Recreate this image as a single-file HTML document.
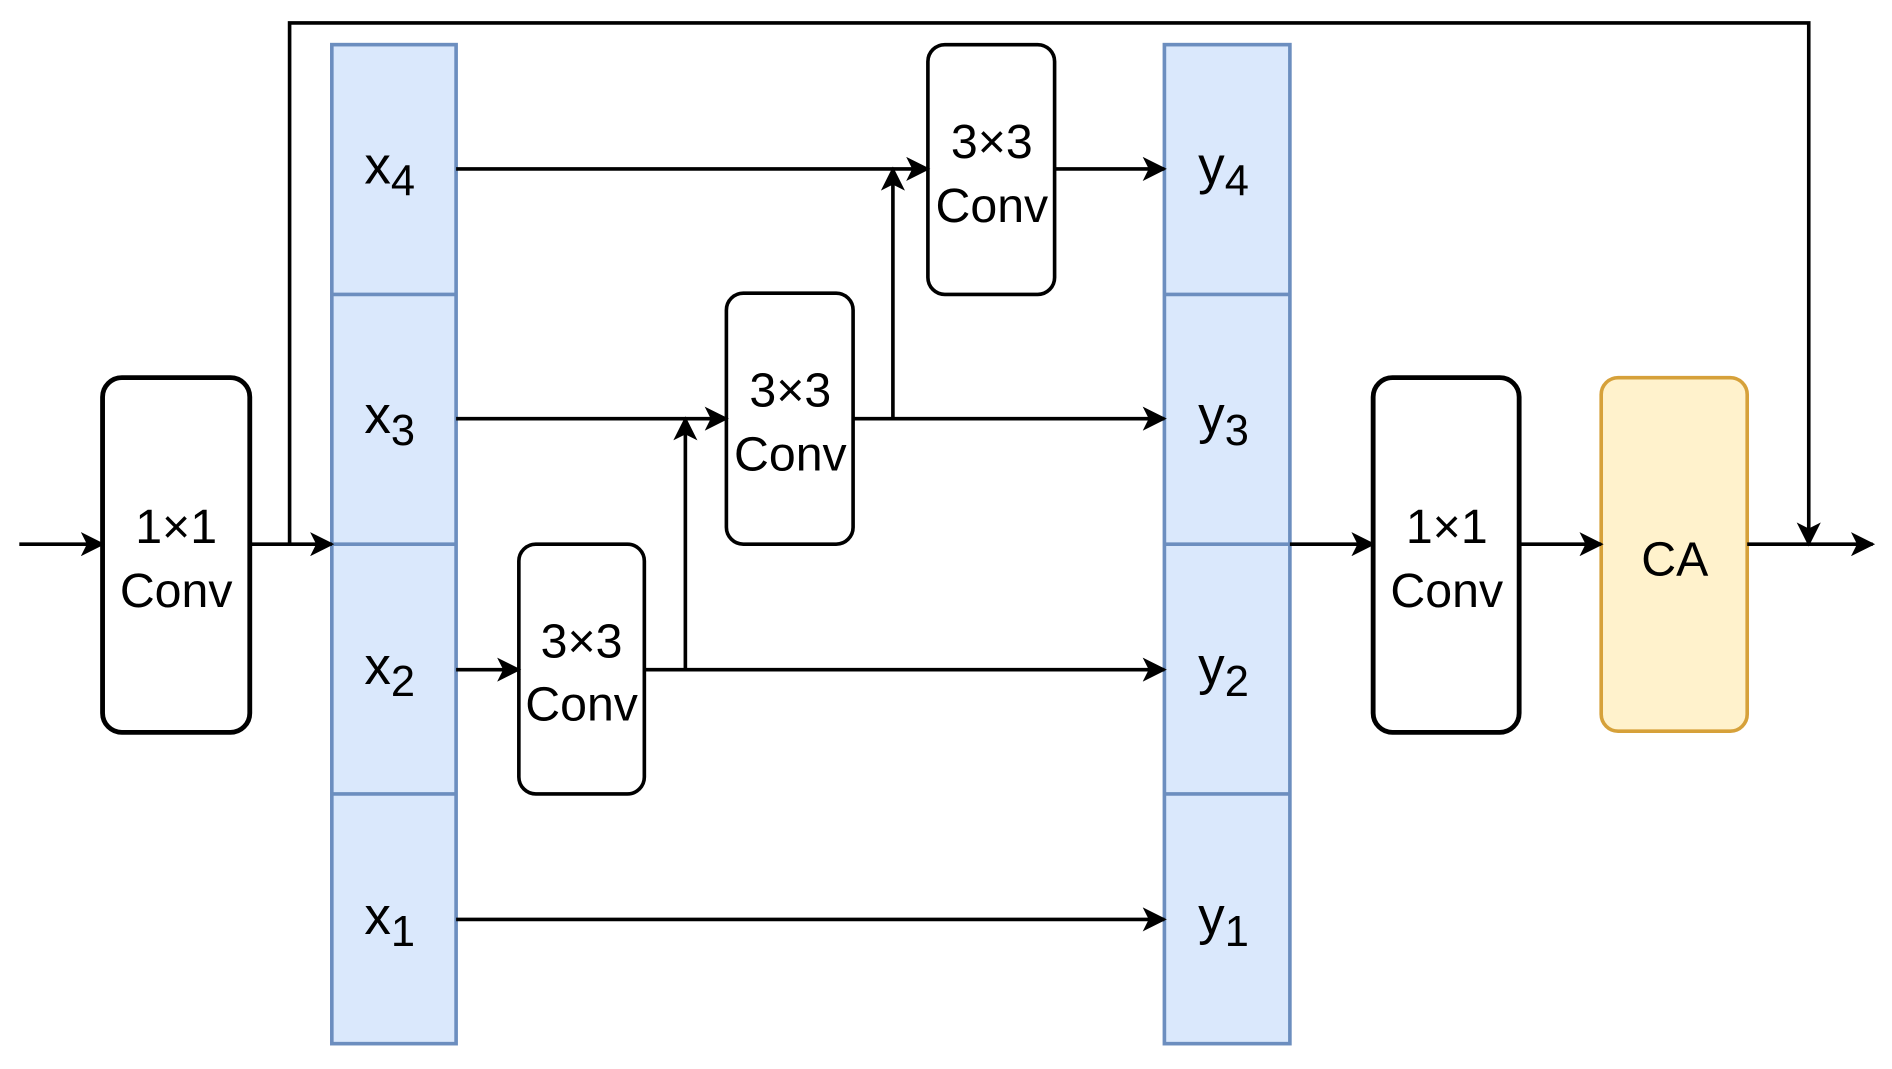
<!DOCTYPE html>
<html><head><meta charset="utf-8"><style>html,body{margin:0;padding:0;background:#fff}svg{display:block}</style></head>
<body>
<svg width="1892" height="1069" viewBox="0 0 1568 886" preserveAspectRatio="none" xmlns="http://www.w3.org/2000/svg" font-family="Liberation Sans, sans-serif">
<defs>
<marker id="b" markerWidth="20" markerHeight="20" refX="18" refY="10" orient="auto" markerUnits="userSpaceOnUse" viewBox="0 0 20 20"><path d="M0,0 L20,10 L0,20 L5,10 Z" fill="#000"/></marker></defs>
<g fill="#dae8fc" stroke="#6c8ebf" stroke-width="3">
<rect x="275" y="37" width="103" height="828"/>
<rect x="965" y="37" width="104" height="828"/>
<path d="M275 244H378M275 451H378M275 658H378M965 244H1069M965 451H1069M965 658H1069"/>
</g>
<g fill="#fff" stroke="#000">
<rect x="85" y="313" width="122" height="294" rx="16" stroke-width="4"/>
<rect x="1138" y="313" width="121" height="294" rx="16" stroke-width="4"/>
<rect x="430" y="451" width="104" height="207" rx="14" stroke-width="3"/>
<rect x="602" y="243" width="105" height="208" rx="14" stroke-width="3"/>
<rect x="769" y="37" width="105" height="207" rx="14" stroke-width="3"/>
</g>
<rect x="1327" y="313" width="121" height="293" rx="14" fill="#fff2cc" stroke="#d6a13a" stroke-width="3"/>
<g stroke="#000" stroke-width="3" fill="none" marker-end="url(#b)">
<path d="M16 451H85"/><path d="M207 451H275"/>
<path d="M240 451V19H1499V451"/>
<path d="M1448 451H1552"/>
<path d="M378 140H769"/><path d="M740 347V140"/>
<path d="M378 347H602"/><path d="M568 555V347"/>
<path d="M378 555H430"/><path d="M534 555H965"/>
<path d="M707 347H965"/><path d="M874 140H965"/>
<path d="M378 762H965"/>
<path d="M1069 451H1138"/><path d="M1259 451H1327"/>
</g>
<g font-size="40" text-anchor="middle" fill="#000">
<text x="146" y="450">1×1</text><text x="146" y="503">Conv</text>
<text x="1199" y="450">1×1</text><text x="1199" y="503">Conv</text>
<text x="482" y="545">3×3</text><text x="482" y="597">Conv</text>
<text x="655" y="337">3×3</text><text x="655" y="390">Conv</text>
<text x="822" y="131">3×3</text><text x="822" y="184">Conv</text>
<text x="1388" y="477">CA</text>
</g>
<g font-size="44" fill="#000">
<text x="302" y="152">x<tspan font-size="36" dy="10">4</tspan></text>
<text x="302" y="359">x<tspan font-size="36" dy="10">3</tspan></text>
<text x="302" y="567">x<tspan font-size="36" dy="10">2</tspan></text>
<text x="302" y="774">x<tspan font-size="36" dy="10">1</tspan></text>
<text x="993" y="152">y<tspan font-size="36" dy="10">4</tspan></text>
<text x="993" y="359">y<tspan font-size="36" dy="10">3</tspan></text>
<text x="993" y="567">y<tspan font-size="36" dy="10">2</tspan></text>
<text x="993" y="774">y<tspan font-size="36" dy="10">1</tspan></text>
</g>
</svg>
</body></html>
